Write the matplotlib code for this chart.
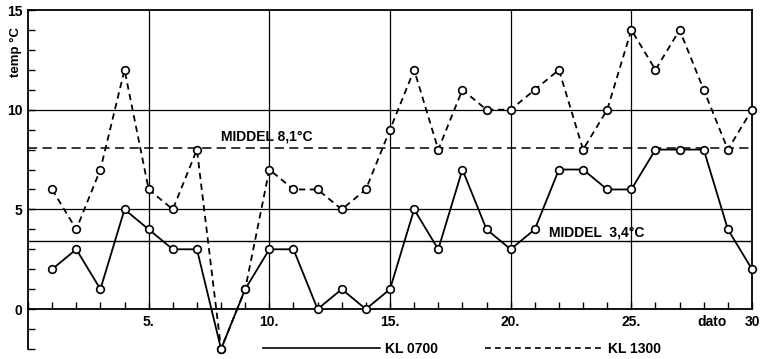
import matplotlib.pyplot as plt
from matplotlib.lines import Line2D
from matplotlib.ticker import MultipleLocator, FixedLocator

plt.rcParams['font.family'] = ['Liberation Sans', 'DejaVu Sans']
plt.rcParams['font.weight'] = 'bold'

# Daily temperatures (°C)
days = list(range(1, 31))
kl0700 = [2, 3, 1, 5, 4, 3, 3, -2, 1, 3, 3, 0, 1, 0, 1,
          5, 3, 7, 4, 3, 4, 7, 7, 6, 6, 8, 8, 8, 4, 2]
kl1300 = [6, 4, 7, 12, 6, 5, 8, -2, 1, 7, 6, 6, 5, 6, 9,
          12, 8, 11, 10, 10, 11, 12, 8, 10, 14, 12, 14, 11, 8, 10]
mean0700 = 3.4
mean1300 = 8.1
xtick_pos = [5, 10, 15, 20, 25, 30]
xtick_lab = ['5.', '10.', '15.', '20.', '25.', '30']
ytick_pos = [0, 5, 10, 15]

fig = plt.figure(figsize=(7.62, 3.59), dpi=100)
ax = fig.add_axes([28 / 762, 10 / 359, 724 / 762, 339 / 359])
ax.set_xlim(0, 30)
ax.set_ylim(-2, 15)

# grid
for x in [5, 10, 15, 20, 25]:
    ax.plot([x, x], [0, 15], color='black', lw=0.9, zorder=1)
for y in [5, 10]:
    ax.axhline(y, color='black', lw=0.9, zorder=1)

# mean lines
ax.axhline(mean0700, color='black', lw=1.0, zorder=1)
ax.axhline(mean1300, color='black', lw=1.1, ls=(0, (6, 3.5)), zorder=1)
ax.text(8.0, mean1300 + 0.2, 'MIDDEL 8,1°C', fontsize=10, va='bottom')
ax.text(21.6, mean0700 + 0.08, 'MIDDEL  3,4°C', fontsize=10, va='bottom')

# data
ax.plot(days, kl0700, color='black', lw=1.3, marker='o', ms=5.5,
        mfc='white', mec='black', mew=1.2, zorder=3, clip_on=False)
ax.plot(days, kl1300, color='black', lw=1.3, ls=(0, (3.5, 2.5)), marker='o',
        ms=5.5, mfc='white', mec='black', mew=1.2, zorder=3, clip_on=False)

# spines
ax.spines['bottom'].set_position(('data', 0))
ax.spines['right'].set_bounds(0, 15)
for s in ax.spines.values():
    s.set_linewidth(1.3)

ax.xaxis.set_major_locator(FixedLocator(xtick_pos))
ax.set_xticklabels(xtick_lab)
ax.xaxis.set_minor_locator(MultipleLocator(1))
ax.tick_params(axis='x', which='both', direction='in', length=5, width=1.0,
               labelsize=10, pad=4)
ax.text(28.35, -0.3, 'dato', fontsize=10, ha='center', va='top')

ax.yaxis.set_major_locator(FixedLocator(ytick_pos))
ax.yaxis.set_minor_locator(MultipleLocator(1))
ax.tick_params(axis='y', which='both', direction='in', length=5, width=1.0,
               labelsize=10, pad=4)
ax.text(-0.5, 12.9, 'temp °C', rotation=90, fontsize=9.5, ha='center',
        va='center')

# legend
handles = [Line2D([], [], color='black', lw=1.2),
           Line2D([], [], color='black', lw=1.2, ls=(0, (3.5, 2.5)))]
fig.legend(handles, ['KL 0700', 'KL 1300'], loc='center left',
           bbox_to_anchor=(263 / 762, 10 / 359), ncol=2, frameon=False,
           fontsize=10, handlelength=8.4, handletextpad=0.4,
           columnspacing=3.4, borderpad=0, borderaxespad=0)

fig.savefig('out.png', dpi=100)
